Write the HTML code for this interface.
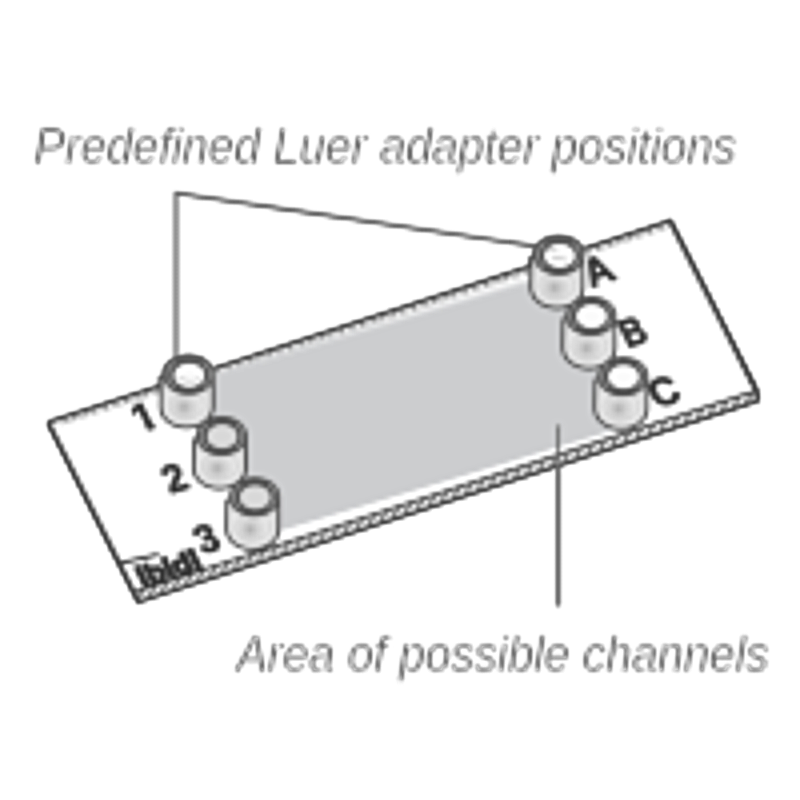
<!DOCTYPE html>
<html lang="en">
<head>
<meta charset="utf-8">
<title>Predefined Luer adapter positions</title>
<style>
html,body{margin:0;padding:0;background:#fff;}
body{width:800px;height:800px;overflow:hidden;}
svg{display:block;}
text{font-family:"Liberation Sans",Arial,Helvetica,sans-serif;}
.cap{font-style:italic;font-size:50px;fill:#3a3a3a;stroke:#fff;stroke-width:1.6px;}
.lbl{font-weight:700;font-size:41.5px;fill:#3a3a3a;stroke:#3a3a3a;stroke-width:1.8px;stroke-linejoin:round;}
</style>
</head>
<body>
<svg width="800" height="800" viewBox="0 0 800 800">
<defs>
<filter id="soft" filterUnits="userSpaceOnUse" x="0" y="0" width="800" height="800" color-interpolation-filters="sRGB">
<feGaussianBlur in="SourceGraphic" stdDeviation="1.2" result="pre"/>
<feFlood x="1" y="1" width="1" height="1" flood-color="#000" result="dot"/>
<feComposite in="dot" in2="dot" operator="over" x="0" y="0" width="4" height="4" result="cell"/>
<feTile in="cell" x="0" y="0" width="800" height="800" result="grid"/>
<feComposite in="pre" in2="grid" operator="in" result="samp"/>
<feMorphology in="samp" operator="dilate" radius="1" result="r0"/>
<feOffset in="r0" dx="1" dy="0" result="r1"/>
<feOffset in="r0" dx="0" dy="1" result="r2"/>
<feOffset in="r0" dx="1" dy="1" result="r3"/>
<feMerge result="pix"><feMergeNode in="r3"/><feMergeNode in="r2"/><feMergeNode in="r1"/><feMergeNode in="r0"/></feMerge>
<feGaussianBlur in="pix" stdDeviation="1.5" result="g1"/>
<feGaussianBlur in="pix" stdDeviation="3.2" result="g2"/>
<feComposite in="g1" in2="g2" operator="arithmetic" k1="0" k2="1.7" k3="-0.7" k4="0" result="sharp"/>
<feGaussianBlur in="SourceGraphic" stdDeviation="1.4" result="fallback"/>
<feMerge><feMergeNode in="fallback"/><feMergeNode in="sharp"/></feMerge>
</filter>
<pattern id="rope" width="12.8" height="10" patternUnits="userSpaceOnUse">
<rect width="12.8" height="10" fill="#ececec"/>
<path d="M-13.3,10.5 L0.7,-0.5 M-0.5,10.5 L13.5,-0.5" stroke="#545454" stroke-width="2.6" fill="none"/>
</pattern>
<linearGradient id="fade" gradientUnits="userSpaceOnUse" x1="370" y1="330.5" x2="367.7" y2="322.7">
<stop offset="0" stop-color="#cccdcf"/><stop offset="1" stop-color="#cccdcf" stop-opacity="0"/>
</linearGradient>
<pattern id="tick" width="10.8" height="6" patternUnits="userSpaceOnUse">
<line x1="7.5" y1="0" x2="3.4" y2="5.8" stroke="#6a6a6a" stroke-width="2.2"/>
</pattern>
<clipPath id="nofoot"><polygon points="-2,-42 30,-42 30,-5.8 17.1,-5.8 17.1,3 8.3,3 8.3,-5.8 -2,-5.8"/></clipPath>
<radialGradient id="body" cx="0.45" cy="0.62" r="0.6">
<stop offset="0" stop-color="#adadad"/><stop offset="0.22" stop-color="#cfcfcf"/><stop offset="0.55" stop-color="#e6e6e6"/><stop offset="1" stop-color="#d8d8d8"/>
</radialGradient>
<g id="adbody">
<path d="M-27.6,4 L-28,32.5 A26.2,20.5 0 0 0 24.4,32.5 L24.4,0 Z" fill="url(#body)" stroke="#505050" stroke-width="3.4"/>
<ellipse cx="-2" cy="31" rx="18" ry="13" fill="none" stroke="#d2d2d2" stroke-width="2"/>
</g>
<g id="ring">
<path fill-rule="evenodd" fill="#545454" d="M-25.8,0.5 A25.8,20 0 1 0 25.8,0.5 A25.8,20 0 1 0 -25.8,0.5 Z M-14.6,0.9 A15.3,11.8 0 1 0 16,0.9 A15.3,11.8 0 1 0 -14.6,0.9 Z"/>
<path d="M15,-11.3 A20.8,16.2 0 0 1 15,11.9 M-14.4,11.9 A20.8,16.2 0 0 1 -14.4,-11.3" fill="none" stroke="#8e8e8e" stroke-width="2.8" stroke-linecap="round"/>
</g>
<g id="adw">
<use href="#adbody"/>
<ellipse cx="0.7" cy="0.9" rx="16" ry="12.5" fill="#fbfbfb"/>
<use href="#ring"/>
</g>
<g id="adg">
<use href="#adbody"/>
<ellipse cx="0.7" cy="0.9" rx="16" ry="12.5" fill="#d8d8d8"/>
<use href="#ring"/>
</g>
</defs>
<rect width="800" height="800" fill="#fff"/>
<g filter="url(#soft)">
<!-- slide top face -->
<polygon points="48.5,422.5 669,221.5 756,398 138,600" fill="#fff"/>
<!-- slide edge (hatched) -->
<g transform="translate(132.6,590.5) rotate(-17.95)"><rect x="0" y="0" width="651" height="10" fill="url(#rope)"/></g>
<line x1="133.6" y1="591.6" x2="753" y2="391.1" stroke="#404040" stroke-width="3.1"/>
<!-- far edge ticks -->
<g transform="translate(47.5,422.5) rotate(-17.92)"><rect x="6" y="0" width="646" height="6" fill="url(#tick)"/>
<line x1="10" y1="5.2" x2="650" y2="5.2" stroke="#b4b4b4" stroke-width="1.8"/></g>
<!-- channel area -->
<polygon points="186,384.6 555,276.1 632,424.5 264,535" fill="#cccdcf"/>
<polygon points="186,385.1 555,276.6 552,269 183,377.5" fill="url(#fade)"/>
<!-- outlines -->
<g fill="none" stroke="#464646" stroke-linejoin="round" stroke-linecap="round">
<path d="M48.3,422.3 L669.5,221.3" stroke-width="3" stroke="#444" stroke-linecap="butt"/>
<path d="M669.5,221.3 L753,385 Q757,392 756,399.5" stroke-width="4.6" stroke="#404040"/>
<path d="M756,400.4 L138,600.9" stroke-width="3.3" stroke="#404040"/>
<path d="M48.6,422.6 L138,600" stroke-width="4.3" stroke="#3e3e3e" stroke-linecap="butt"/>
</g>
<!-- leader lines -->
<polyline points="175.6,356 175.6,192.8 536,246" fill="none" stroke="#585858" stroke-width="1.8"/>
<line x1="558" y1="425" x2="558" y2="605" stroke="#6a6a6a" stroke-width="3"/>
<!-- adapters -->
<use href="#adw" x="188" y="374"/>
<path d="M178,377 Q188,383 200,378" fill="none" stroke="#c4c4c4" stroke-width="2.2"/>
<use href="#adg" x="221" y="435"/>
<use href="#adg" x="254" y="496"/>
<use href="#adw" x="558.5" y="254.5"/>
<path d="M548,249.5 L557,250.5 M551,258.5 Q559,257 567,260" fill="none" stroke="#bdbdbd" stroke-width="2"/>
<use href="#adw" x="590.5" y="315"/>
<use href="#adw" x="622.5" y="375.5"/>
<!-- labels -->
<text class="lbl" clip-path="url(#nofoot)" transform="matrix(0.90,-0.292,0.44,0.88,139.5,432)">1</text>
<text class="lbl" transform="matrix(0.90,-0.292,0.44,0.88,170,493.5)">2</text>
<text class="lbl" transform="matrix(0.90,-0.292,0.44,0.88,202,554)">3</text>
<text class="lbl" transform="matrix(0.90,-0.292,0.44,0.88,590.5,287)">A</text>
<text class="lbl" transform="matrix(0.77,-0.25,0.44,0.88,627,347.5)">B</text>
<text class="lbl" transform="matrix(0.90,-0.292,0.44,0.88,656,408)">C</text>
<line x1="118" y1="563" x2="158" y2="554" stroke="#3c3c3c" stroke-width="3.4"/>
<text transform="matrix(0.90,-0.292,0.44,0.88,142,587)" font-weight="700" font-size="30" fill="#343434" stroke="#343434" stroke-width="3" textLength="68" lengthAdjust="spacingAndGlyphs">ibidi</text>
<!-- captions -->
<text id="t1" class="cap" x="33.5" y="162.5" textLength="702.5" lengthAdjust="spacingAndGlyphs">Predefined Luer adapter positions</text>
<text id="t2" class="cap" x="236" y="670.8" textLength="532.5" lengthAdjust="spacingAndGlyphs">Area of possible channels</text>
</g>
</svg>
</body>
</html>
